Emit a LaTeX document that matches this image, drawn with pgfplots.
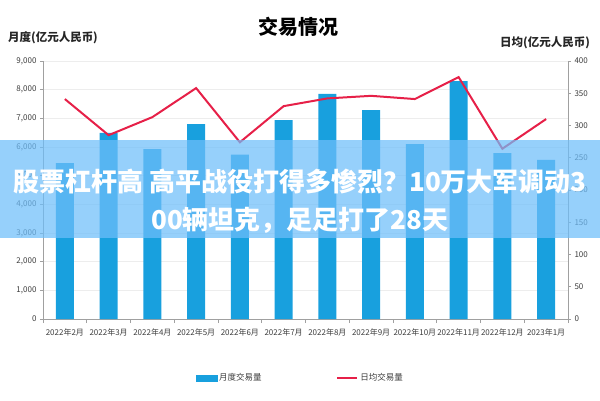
\documentclass[border=0pt]{standalone}
\usepackage{fontspec}
\setmainfont{Noto Sans CJK SC}
\usepackage{pgfplots}
\usepackage{pgfplotstable}
\pgfplotsset{compat=1.18}
\definecolor{barblue}{RGB}{24,160,222}
\definecolor{linered}{RGB}{230,32,72}
\definecolor{bandblue}{RGB}{110,190,250}
\definecolor{axgray}{RGB}{160,160,160}
\definecolor{txtgray}{RGB}{60,60,60}

\pgfplotstableread{
x bar line
0 5440 341
1 6490 285
2 5930 313
3 6800 358
4 5730 274
5 6940 330
6 7850 342
7 7290 346
8 6100 341
9 8300 375
10 5790 264
11 5550 310
}\data

\begin{document}
\begin{tikzpicture}
\path[use as bounding box] (0pt,0pt) rectangle (600pt,400pt);
\begin{axis}[
  at={(43pt,81pt)}, anchor=south west, scale only axis,
  width=525pt, height=258pt,
  xmin=-0.5, xmax=11.5, ymin=0, ymax=9000,
  axis x line*=bottom, axis y line*=left,
  axis line style={axgray, line width=0.8pt},
  xtick={0,...,11},
  xticklabels={2022年2月,2022年3月,2022年4月,2022年5月,2022年6月,2022年7月,2022年8月,2022年9月,2022年10月,2022年11月,2022年12月,2023年1月},
  major x tick style={draw=none},
  minor xtick={-0.5,0.5,...,11.5},
  minor x tick style={axgray, line width=0.8pt},
  minor tick length=4pt,
  ytick={0,1000,...,9000},
  y tick style={axgray, line width=0.6pt},
  major tick length=3pt,
  tick align=outside,
  scaled y ticks=false,
  /pgf/number format/1000 sep={,},
  /pgf/number format/assume math mode=true,
  ticklabel style={font=\fontsize{8}{9}\selectfont, text=txtgray},
  xticklabel style={yshift=-3pt},
  ymajorgrids, grid style={black!7, line width=0.6pt},
  legend columns=2,
  legend style={at={(rel axis cs:0.49,-0.229)}, anchor=center, draw=none, fill=none,
    font=\fontsize{8.5}{9}\selectfont, text=txtgray,
    /tikz/every even column/.append style={column sep=73pt}},
]
\addplot[ybar, bar width=18pt, fill=barblue, draw=none, forget plot] table[x=x,y=bar]{\data};
\addlegendimage{legend image code/.code={\fill[barblue] (0pt,-3pt) rectangle (21pt,3pt);}}
\addlegendentry{月度交易量}
\addlegendimage{legend image code/.code={\draw[linered, line width=1.8pt] (0pt,0pt) -- (20pt,0pt);}}
\addlegendentry{日均交易量}
\end{axis}
\begin{axis}[
  at={(43pt,81pt)}, anchor=south west, scale only axis,
  width=525pt, height=258pt,
  xmin=-0.5, xmax=11.5, ymin=0, ymax=400,
  axis x line=none, axis y line*=right,
  axis line style={axgray, line width=0.8pt},
  ytick={0,50,...,400},
  y tick style={axgray, line width=0.6pt},
  major tick length=3pt,
  tick align=outside,
  /pgf/number format/assume math mode=true,
  ticklabel style={font=\fontsize{8}{9}\selectfont, text=txtgray},
]
\addplot[linered, line width=2pt] table[x=x,y=line]{\data};
\end{axis}
\node[font=\fontsize{20}{22}\selectfont\bfseries, text=black] at (298pt,373pt) {交易情况};
\node[font=\fontsize{11.5}{13}\selectfont\bfseries, text=black!85] at (53pt,362pt) {月度(亿元人民币)};
\node[font=\fontsize{11.5}{13}\selectfont\bfseries, text=black!85] at (545pt,357pt) {日均(亿元人民币)};
\fill[bandblue, fill opacity=0.72] (0pt,162pt) rectangle (600pt,260pt);
\node[font=\fontsize{26}{38}\selectfont\bfseries, text=white, align=center] at (300pt,199pt)
  {股票杠杆高 高平战役打得多惨烈？10万大军调动3\\00辆坦克，足足打了28天};
\end{tikzpicture}
\end{document}
